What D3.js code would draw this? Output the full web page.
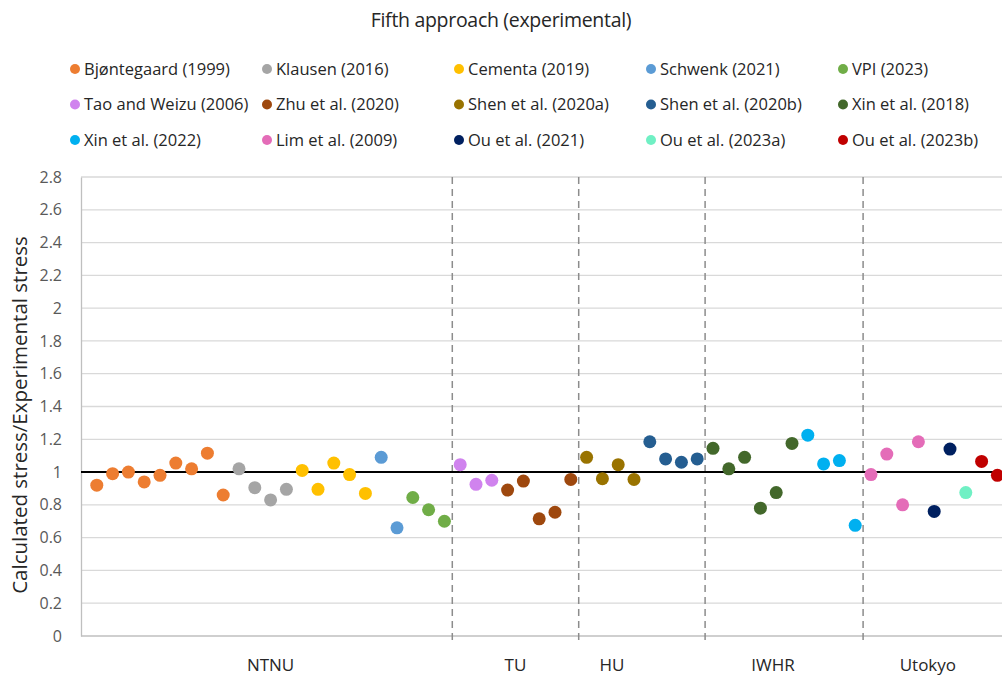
<!DOCTYPE html>
<html>
<head>
<meta charset="utf-8">
<script src="https://cdn.jsdelivr.net/npm/d3@7"></script>
<style>
  body { margin: 0; background: #fff; }
  text { font-family: "Open Sans", Lato, sans-serif; }
</style>
</head>
<body>
<div id="chart"></div>
<script>
// series, in plotting order
var seriesNames = ["Bjøntegaard (1999)", "Klausen (2016)", "Cementa (2019)", "Schwenk (2021)", "VPI (2023)",
                   "Tao and Weizu (2006)", "Zhu et al. (2020)", "Shen et al. (2020a)", "Shen et al. (2020b)", "Xin et al. (2018)",
                   "Xin et al. (2022)", "Lim et al. (2009)", "Ou et al. (2021)", "Ou et al. (2023a)", "Ou et al. (2023b)"];
var seriesColors = ["#ED7D31", "#A5A5A5", "#FFC000", "#5B9BD5", "#70AD47",
                    "#D083EE", "#9E480E", "#997300", "#255E91", "#43682B",
                    "#00B0F0", "#E46CB8", "#002060", "#70F0C4", "#C00000"];
var seriesValues = [
  [0.92, 0.99, 1.0, 0.94, 0.98, 1.055, 1.02, 1.115, 0.86],
  [1.02, 0.905, 0.83, 0.895],
  [1.01, 0.895, 1.055, 0.985, 0.87],
  [1.09, 0.66],
  [0.845, 0.77, 0.70],
  [1.045, 0.925, 0.95],
  [0.89, 0.945, 0.715, 0.755, 0.955],
  [1.09, 0.96, 1.045, 0.955],
  [1.185, 1.08, 1.06, 1.08],
  [1.145, 1.02, 1.09, 0.78, 0.875, 1.175],
  [1.225, 1.05, 1.07, 0.675],
  [0.985, 1.11, 0.80, 1.185],
  [0.76, 1.14],
  [0.875],
  [1.065, 0.98]
];
var groupNames = ["NTNU", "TU", "HU", "IWHR", "Utokyo"];
var groupSeriesCount = [5, 2, 2, 2, 4];
var yTicks = [0, 0.2, 0.4, 0.6, 0.8, 1, 1.2, 1.4, 1.6, 1.8, 2, 2.2, 2.4, 2.6, 2.8];

var W = 1002, H = 676;
var plotLeft = 81, plotTop = 177, plotH = 459;
var svg = d3.select("#chart").append("svg").attr("width", W).attr("height", H);

var x = d3.scaleLinear().domain([0, 59]).range([plotLeft, plotLeft + 59 * 15.8]);
var y = d3.scaleLinear().domain([0, 2.8]).range([plotTop + plotH, plotTop]);

// flatten points, x index runs 1..N
var points = [];
var idx = 1;
seriesValues.forEach(function(vals, s) {
  vals.forEach(function(v) { points.push({s: s, i: idx, v: v}); idx++; });
});

// group boundaries
var bounds = [];
var k = 0, start = 1;
groupSeriesCount.forEach(function(n) {
  var cnt = 0;
  for (var j = 0; j < n; j++) { cnt += seriesValues[k + j].length; }
  k += n;
  bounds.push({from: start, to: start + cnt - 1});
  start += cnt;
});

// title
svg.append("text").attr("x", 501).attr("y", 27).attr("text-anchor", "middle")
  .style("font-size", "19.5px").style("letter-spacing", "-0.3px").style("fill", "#262626")
  .text("Fifth approach (experimental)");

// legend
var legend = svg.append("g");
seriesNames.forEach(function(name, s) {
  var col = s % 5, row = Math.floor(s / 5);
  var lx = 75 + col * 192, ly = 69 + row * 35.5;
  legend.append("circle").attr("cx", lx).attr("cy", ly).attr("r", 5).style("fill", seriesColors[s]);
  legend.append("text").attr("x", lx + 9).attr("y", ly).attr("dy", "0.36em")
    .style("font-size", "16.5px").style("fill", "#262626").text(name);
});

// gridlines
svg.append("g").selectAll("line").data(yTicks.filter(function(t) { return t > 0; }))
  .enter().append("line")
  .attr("x1", plotLeft).attr("x2", W)
  .attr("y1", function(d) { return y(d); }).attr("y2", function(d) { return y(d); })
  .style("stroke", "#d9d9d9").style("stroke-width", 1.3);

// y axis
var yAxis = svg.append("g").attr("transform", "translate(" + plotLeft + ",0)")
  .call(d3.axisLeft(y).tickValues(yTicks).tickSize(0).tickPadding(19)
        .tickFormat(function(d) { return d3.format("")(+d.toFixed(1)); }));
yAxis.select(".domain").style("stroke", "#bfbfbf").style("stroke-width", 1.3);
yAxis.selectAll("text").style("font-size", "16px").style("fill", "#595959")
  .style("font-family", "'Open Sans', Lato, sans-serif");

// x axis line
svg.append("line").attr("x1", plotLeft).attr("x2", W).attr("y1", y(0)).attr("y2", y(0))
  .style("stroke", "#bfbfbf").style("stroke-width", 1.3);

// group dividers
svg.append("g").selectAll("line").data(bounds.slice(1))
  .enter().append("line")
  .attr("x1", function(d) { return x(d.from - 0.5); }).attr("x2", function(d) { return x(d.from - 0.5); })
  .attr("y1", plotTop).attr("y2", y(0) + 7)
  .style("stroke", "#8c8c8c").style("stroke-width", 1.5).style("stroke-dasharray", "7,5");

// reference line at 1
svg.append("line").attr("x1", plotLeft).attr("x2", W).attr("y1", y(1)).attr("y2", y(1))
  .style("stroke", "#000").style("stroke-width", 2);

// points
svg.append("g").selectAll("circle").data(points)
  .enter().append("circle")
  .attr("cx", function(d) { return x(d.i); })
  .attr("cy", function(d) { return y(d.v); })
  .attr("r", 6.5)
  .style("fill", function(d) { return seriesColors[d.s]; });

// group labels
var labelAt = [12, 27.5, 33.6, 43.8, 53.6];
svg.append("g").selectAll("text").data(groupNames)
  .enter().append("text")
  .attr("x", function(d, i) { return x(labelAt[i]); })
  .attr("y", 671).attr("text-anchor", "middle")
  .style("font-size", "17px").style("fill", "#262626")
  .text(function(d) { return d; });

// y axis title
svg.append("text").attr("transform", "translate(27,415) rotate(-90)")
  .attr("text-anchor", "middle").style("font-size", "20.5px").style("fill", "#262626")
  .text("Calculated stress/Experimental stress");
</script>
</body>
</html>
